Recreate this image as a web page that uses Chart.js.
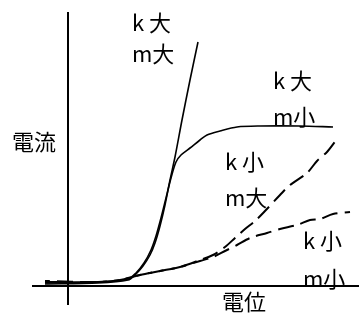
<!DOCTYPE html>
<html>
<head>
<meta charset="utf-8">
<script src="https://cdn.jsdelivr.net/npm/chart.js@4/dist/chart.umd.min.js"></script>
<style>
  body { margin: 0; background: #fff; }
  canvas { display: block; }
</style>
</head>
<body>
<canvas id="myChart" width="359" height="325"></canvas>
<script>
// 電位 (x) vs 電流 (y), arbitrary units, origin where the axes cross
let kLargeMLarge = [[-23,2],[30,3],[60,6],[67,11],[75,20],[82,31],[87,43],[92,60],[97,81],[102,106],[107,129],[114,166],[122,206],[130,244]]
let kLargeMSmall = [[-23,3],[30,4],[60,7],[68,13],[76,23],[83,36],[88,50],[93,68],[98,88],[103,108],[108,124],[113,131],[122,138],[132,146],[139,151],[152,155],[169,159],[192,160],[232,160],[265,159]]
let kSmallMLarge = [[-23,4],[30,4],[52,6],[72,11],[92,15],[112,19],[132,26],[145,31],[157,39],[167,48],[177,57],[187,65],[197,75],[212,91],[222,101],[239,113],[249,125],[259,134],[269,147]]
let kSmallMSmall = [[-23,5],[30,4],[52,6],[72,11],[92,15],[112,19],[132,25],[145,29],[157,35],[169,41],[182,48],[199,53],[212,57],[229,61],[242,66],[252,67],[265,72],[282,74]]

// axis lines
let potentialAxis = [[-36,0],[291,0]]
let currentAxis = [[0,-19],[0,274]]

// curve labels: [text, potential, current]
let curveLabels = [
    ['k 大', 64, 263], ['m大', 64, 232],
    ['k 大', 205, 205], ['m小', 205, 169],
    ['k 小', 157, 124], ['m大', 157, 88],
    ['k 小', 235, 45], ['m小', 235, 7],
]
let axisTitles = [['電流', -34, 144], ['電位', 176, -16]]

const toPoints = (arr) => arr.map((p) => ({x: p[0], y: p[1]}))

const line = (arr, width, dash, offset) => ({
    data: toPoints(arr),
    showLine: true,
    borderColor: '#000',
    borderWidth: width,
    borderDash: dash || [],
    borderDashOffset: offset || 0,
    pointRadius: 0,
    tension: 0.3,
    fill: false,
})

const textPlugin = {
    id: 'texts',
    afterDatasetsDraw(chart) {
        const c = chart.ctx
        const xs = chart.scales.x
        const ys = chart.scales.y
        c.save()
        c.fillStyle = '#000'
        c.textBaseline = 'middle'
        c.font = '22px "Noto Sans CJK JP"'
        c.textAlign = 'left'
        curveLabels.forEach((item) => {
            c.fillText(item[0], xs.getPixelForValue(item[1]), ys.getPixelForValue(item[2]))
        })
        c.textAlign = 'center'
        axisTitles.forEach((item) => {
            c.fillText(item[0], xs.getPixelForValue(item[1]), ys.getPixelForValue(item[2]))
        })
        c.restore()
    }
}

const ctx = document.getElementById('myChart').getContext('2d')
const myChart = new Chart(ctx, {
    type: 'scatter',
    data: {
        datasets: [
            line(potentialAxis, 2),
            line(currentAxis, 2),
            line(kLargeMLarge, 1.6),
            line(kLargeMSmall, 1.6),
            line(kSmallMLarge, 2, [16, 7], 0),
            line(kSmallMSmall, 2, [16, 7], 11),
        ]
    },
    options: {
        responsive: false,
        animation: false,
        layout: { padding: 0 },
        plugins: { legend: { display: false }, tooltip: { enabled: false } },
        scales: {
            x: { type: 'linear', display: false, min: -68, max: 291 },
            y: { type: 'linear', display: false, min: -39, max: 286 },
        }
    },
    plugins: [textPlugin]
});
</script>
</body>
</html>
